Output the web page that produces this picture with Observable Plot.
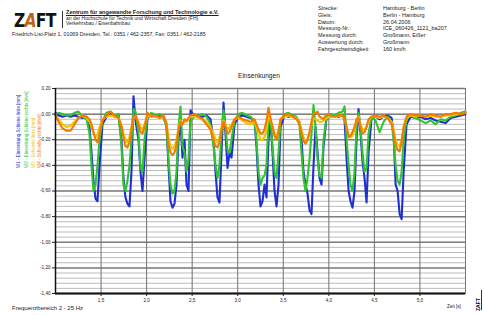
<!DOCTYPE html>
<html><head><meta charset="utf-8">
<script src="https://cdn.jsdelivr.net/npm/d3@7"></script>
<script src="https://cdn.jsdelivr.net/npm/@observablehq/plot@0.6"></script>
<style>
body{margin:0;background:#fff;font-family:"Liberation Sans",Arial,sans-serif;}
#wrap{position:relative;width:484px;height:315px;overflow:hidden;background:#fff;}
#chart{position:absolute;left:0;top:0;}
.t{position:absolute;white-space:nowrap;color:#222;line-height:1;}
.rot{position:absolute;white-space:nowrap;line-height:1;transform-origin:0 0;transform:rotate(-90deg);font-size:4.5px;}
</style></head><body>
<div id="wrap">
<div id="chart"></div>
<div class="t" style="left:14px;top:10px;font-size:20px;font-weight:bold;letter-spacing:-1px;color:#111;font-family:'DejaVu Sans',sans-serif;transform-origin:0 0;transform:scaleX(0.78);">Z<span style="color:#c0601a;font-style:italic;">A</span>FT</div>
<div style="position:absolute;left:62px;top:11px;width:1px;height:17px;background:#333;"></div>
<div class="t" style="left:66px;top:10px;font-size:5.6px;font-weight:bold;text-decoration:underline;">Zentrum für angewandte Forschung und Technologie e.V.</div>
<div class="t" style="left:66px;top:16px;font-size:5px;">an der Hochschule für Technik und Wirtschaft Dresden (FH)</div>
<div class="t" style="left:66px;top:21px;font-size:5px;">Verkehrsbau / Eisenbahnbau</div>
<div class="t" style="left:12px;top:32px;font-size:5.3px;">Friedrich-List-Platz 1, 01069 Dresden, Tel.: 0351 / 462-2357, Fax: 0351 / 462-2185</div>
<div id="info"></div>
<div class="t" style="left:238px;top:73px;font-size:6.6px;">Einsenkungen</div>
<div id="legend"></div>
<div class="t" style="left:12px;top:305px;font-size:6px;">Frequenzbereich 2 - 25 Hz</div>
<div class="t" style="left:447px;top:305px;font-size:4.6px;">Zeit [s]</div>
<div class="rot" style="left:476px;top:311px;font-size:5px;font-weight:bold;">ZAFT</div>
<div style="position:absolute;left:481px;top:290px;width:1px;height:20px;background:#333;"></div>
</div>
<script>
const infoLabels = ["Strecke:", "Gleis:", "Datum:", "Messung-Nr.:", "Messung durch:", "Auswertung durch:", "Fahrgeschwindigkeit:"];
const infoValues = ["Hamburg - Berlin", "Berlin - Hamburg", "26.04.2006", "ICE_060426_1121_ba207", "Großmann, Eißer", "Großmann", "160 km/h"];

const legendNames = [
  "W1 - Einsenkung Schiene links [mm]",
  "W2 - Einsenkung Schiene rechts [mm]",
  "W3 - Schwelle links [mm]",
  "W4 - Schwelle rechts [mm]"
];
const colors = ["#1f2fd0", "#2fc42f", "#f0c400", "#f57a00"];

const yTicks = [0.2, 0, -0.2, -0.4, -0.6, -0.8, -1.0, -1.2, -1.4];
const xTicks = [1.5, 2.0, 2.5, 3.0, 3.5, 4.0, 4.5, 5.0];

const times = [
1.000,1.033,1.077,1.121,1.165,1.209,1.252,1.296,1.340,1.373,
1.395,1.417,1.439,1.461,1.483,1.516,1.560,1.604,1.648,1.692,
1.724,1.746,1.768,1.790,1.812,1.834,1.856,1.878,1.911,1.933,
1.955,1.977,2.010,2.054,2.098,2.142,2.186,2.218,2.240,2.262,
2.284,2.306,2.328,2.350,2.372,2.394,2.416,2.438,2.460,2.482,
2.526,2.570,2.614,2.658,2.701,2.734,2.756,2.778,2.800,2.822,
2.844,2.866,2.888,2.910,2.932,2.965,3.009,3.053,3.097,3.141,
3.184,3.206,3.228,3.250,3.272,3.294,3.316,3.338,3.360,3.382,
3.404,3.426,3.448,3.470,3.514,3.558,3.602,3.646,3.678,3.700,
3.722,3.744,3.766,3.788,3.810,3.832,3.854,3.876,3.898,3.920,
3.942,3.975,4.019,4.063,4.107,4.151,4.173,4.195,4.217,4.238,
4.260,4.282,4.304,4.326,4.348,4.370,4.392,4.414,4.436,4.469,
4.513,4.557,4.601,4.645,4.689,4.711,4.733,4.755,4.777,4.799,
4.821,4.853,4.897,4.952,5.007,5.062,5.117,5.172,5.227,5.282,
5.337,5.393,5.448,5.500];

const blue = [
0.01,-0.01,-0.02,-0.01,-0.02,-0.01,-0.02,-0.03,-0.02,-0.10,
-0.30,-0.52,-0.66,-0.68,-0.40,-0.08,-0.02,0.00,-0.02,-0.01,
-0.20,-0.50,-0.65,-0.70,-0.72,-0.45,0.14,-0.05,-0.20,-0.45,
-0.60,-0.35,-0.03,0.00,-0.02,-0.01,-0.03,-0.08,-0.40,-0.68,
-0.73,-0.70,-0.55,-0.20,-0.05,-0.34,-0.20,-0.55,-0.60,0.03,
-0.02,-0.01,-0.02,-0.01,-0.04,-0.20,-0.45,-0.65,-0.69,-0.30,
0.09,-0.15,-0.42,-0.30,-0.34,-0.08,-0.02,-0.01,-0.02,-0.03,
-0.05,-0.25,-0.55,-0.72,-0.68,-0.55,-0.65,-0.20,-0.05,-0.30,
-0.60,-0.72,-0.55,-0.10,-0.01,-0.02,-0.01,-0.03,-0.06,-0.20,
-0.45,-0.55,-0.62,-0.75,-0.78,-0.40,-0.10,-0.30,-0.50,-0.55,
-0.25,-0.03,-0.02,-0.01,-0.02,-0.01,-0.05,-0.35,-0.60,-0.68,
-0.73,-0.60,-0.20,0.04,-0.15,-0.37,-0.50,-0.69,-0.30,-0.03,
-0.02,-0.04,-0.02,-0.01,-0.03,-0.15,-0.55,-0.60,-0.78,-0.82,
-0.45,-0.08,-0.02,-0.03,-0.02,-0.04,-0.03,-0.05,-0.06,-0.07,
-0.03,-0.02,-0.01,0.00];

const green = [
0.00,0.01,0.00,-0.01,-0.01,0.01,0.02,-0.02,-0.04,-0.15,
-0.40,-0.60,-0.55,-0.40,-0.20,-0.05,0.01,0.02,-0.01,0.00,
-0.25,-0.55,-0.60,-0.52,-0.40,-0.20,0.04,0.02,-0.15,-0.42,
-0.45,-0.20,-0.02,0.01,-0.01,0.00,-0.02,-0.10,-0.35,-0.55,
-0.62,-0.60,-0.45,-0.10,0.06,-0.25,-0.30,-0.45,-0.35,-0.05,
-0.02,-0.01,0.00,-0.02,-0.08,-0.25,-0.40,-0.50,-0.40,-0.15,
0.03,-0.10,-0.28,-0.30,-0.20,-0.05,0.00,0.01,-0.01,-0.02,
-0.06,-0.20,-0.45,-0.55,-0.50,-0.48,-0.40,-0.05,-0.05,-0.25,
-0.45,-0.50,-0.30,-0.05,0.00,0.01,-0.01,-0.02,-0.08,-0.30,
-0.50,-0.60,-0.50,-0.35,-0.15,0.07,-0.10,-0.35,-0.48,-0.50,
-0.20,-0.02,0.00,-0.01,0.01,0.02,0.06,-0.20,-0.40,-0.55,
-0.60,-0.45,-0.10,0.01,-0.12,-0.30,-0.45,-0.42,-0.15,-0.02,
-0.05,-0.14,-0.06,-0.02,-0.06,-0.20,-0.40,-0.52,-0.55,-0.45,
-0.20,-0.04,-0.01,-0.03,-0.05,-0.07,-0.05,-0.08,-0.04,-0.05,
-0.02,-0.01,0.01,0.02];

const yellow = [
-0.01,-0.04,-0.08,-0.10,-0.09,-0.06,-0.03,-0.01,-0.03,-0.06,
-0.10,-0.15,-0.18,-0.16,-0.10,-0.04,-0.02,-0.01,-0.02,-0.03,
-0.08,-0.15,-0.20,-0.22,-0.18,-0.10,-0.03,-0.02,-0.06,-0.10,
-0.12,-0.08,-0.02,-0.01,-0.02,-0.03,-0.02,-0.06,-0.18,-0.25,
-0.27,-0.25,-0.20,-0.10,-0.05,-0.08,-0.06,-0.06,-0.04,-0.02,
-0.02,-0.03,-0.04,-0.06,-0.10,-0.15,-0.20,-0.22,-0.18,-0.10,
-0.05,-0.08,-0.12,-0.10,-0.08,-0.04,-0.03,-0.05,-0.07,-0.08,
-0.06,-0.10,-0.16,-0.20,-0.20,-0.18,-0.12,0.00,-0.05,-0.10,
-0.15,-0.18,-0.12,-0.04,-0.02,-0.01,-0.02,-0.03,-0.06,-0.12,
-0.18,-0.22,-0.20,-0.15,-0.08,-0.03,-0.04,-0.05,-0.06,-0.06,
-0.05,-0.03,-0.02,-0.02,-0.01,-0.02,-0.04,-0.10,-0.16,-0.18,
-0.17,-0.12,-0.05,-0.02,-0.08,-0.12,-0.12,-0.10,-0.05,-0.02,
-0.02,-0.03,-0.02,-0.03,-0.06,-0.12,-0.20,-0.24,-0.25,-0.20,
-0.10,-0.03,-0.01,-0.02,-0.01,-0.02,-0.01,-0.02,-0.02,-0.01,
-0.01,0.00,0.00,0.01];

const orange = [
-0.01,-0.06,-0.11,-0.13,-0.13,-0.08,-0.03,-0.01,-0.02,-0.04,
-0.08,-0.14,-0.20,-0.22,-0.15,-0.05,-0.01,0.02,-0.01,-0.03,
-0.10,-0.18,-0.25,-0.26,-0.22,-0.12,-0.02,-0.01,-0.08,-0.14,
-0.15,-0.10,0.01,-0.02,-0.01,-0.03,-0.01,-0.08,-0.24,-0.30,
-0.32,-0.30,-0.24,-0.12,-0.06,-0.08,-0.04,-0.05,-0.03,-0.01,
0.00,-0.02,-0.04,-0.08,-0.12,-0.20,-0.25,-0.26,-0.22,-0.12,
-0.06,-0.10,-0.15,-0.14,-0.10,-0.04,-0.02,-0.04,-0.05,-0.06,
-0.04,-0.08,-0.12,-0.15,-0.15,-0.12,-0.05,0.05,-0.03,-0.10,
-0.17,-0.20,-0.14,-0.04,-0.01,0.00,-0.02,-0.04,-0.08,-0.15,
-0.21,-0.23,-0.20,-0.14,-0.06,0.00,0.01,0.02,-0.02,-0.03,
-0.04,0.00,-0.01,-0.02,-0.01,-0.01,-0.03,-0.10,-0.18,-0.17,
-0.14,-0.10,-0.04,-0.03,-0.10,-0.15,-0.14,-0.10,-0.04,-0.02,
-0.01,-0.02,-0.01,-0.03,-0.08,-0.15,-0.24,-0.28,-0.29,-0.22,
-0.10,-0.02,0.00,-0.01,-0.01,-0.02,0.00,-0.01,-0.02,0.00,
0.00,0.01,0.00,0.01];

// info block
const info = document.getElementById("info");
infoLabels.forEach((l, i) => {
  const a = document.createElement("div");
  a.className = "t"; a.style.cssText = `left:318px;top:${6 + i * 6.8}px;font-size:5.5px;`;
  a.textContent = l; info.appendChild(a);
  const b = document.createElement("div");
  b.className = "t"; b.style.cssText = `left:383px;top:${6 + i * 6.8}px;font-size:5.5px;`;
  b.textContent = infoValues[i]; info.appendChild(b);
});

// rotated legend
const leg = document.getElementById("legend");
const legX = [17, 25, 32, 38];
legendNames.forEach((n, i) => {
  const d = document.createElement("div");
  d.className = "rot";
  d.style.left = legX[i] + "px";
  d.style.top = "168px";
  d.style.color = colors[i];
  d.textContent = n;
  leg.appendChild(d);
});

const seriesVals = [blue, green, yellow, orange];
const table = seriesVals.map(vals => times.map((t, i) => ({t, v: vals[i]})));

const minorY = d3.range(0, 41).map(i => -1.4 + i * 0.04);
const fmtY = d => (Math.abs(d) < 1e-9 ? 0 : d).toFixed(2).replace(".", ",");
const fmtX = d => d.toFixed(1).replace(".", ",");

const chart = Plot.plot({
  width: 484, height: 315,
  marginLeft: 55, marginRight: 19, marginTop: 88, marginBottom: 22,
  style: {fontFamily: "Liberation Sans, Arial, sans-serif", background: "transparent", color: "#222"},
  x: {domain: [1, 5.5]},
  y: {domain: [-1.4, 0.2]},
  marks: [
    Plot.ruleY(minorY, {stroke: "#bcbcbc", strokeWidth: 1}),
    Plot.ruleY(yTicks, {stroke: "#808080", strokeWidth: 1.5}),
    Plot.ruleX(xTicks, {stroke: "#707070", strokeWidth: 1}),
    Plot.frame({stroke: "#777", strokeWidth: 1}),
    ...table.map((d, i) => Plot.line(d, {x: "t", y: "v", stroke: colors[i], strokeWidth: 2.1, strokeLinejoin: "round"})),
    Plot.ruleX([1], {stroke: "#111", strokeWidth: 1.5}),
    Plot.ruleY([-1.4], {stroke: "#111", strokeWidth: 2}),
    Plot.axisY(yTicks, {tickFormat: fmtY, fontSize: 4.6, tickSize: 3, tickPadding: 2, label: null}),
    Plot.axisX(xTicks, {tickFormat: fmtX, fontSize: 4.6, tickSize: 3, tickPadding: 2, label: null})
  ]
});
document.getElementById("chart").appendChild(chart);
</script>
</body></html>
